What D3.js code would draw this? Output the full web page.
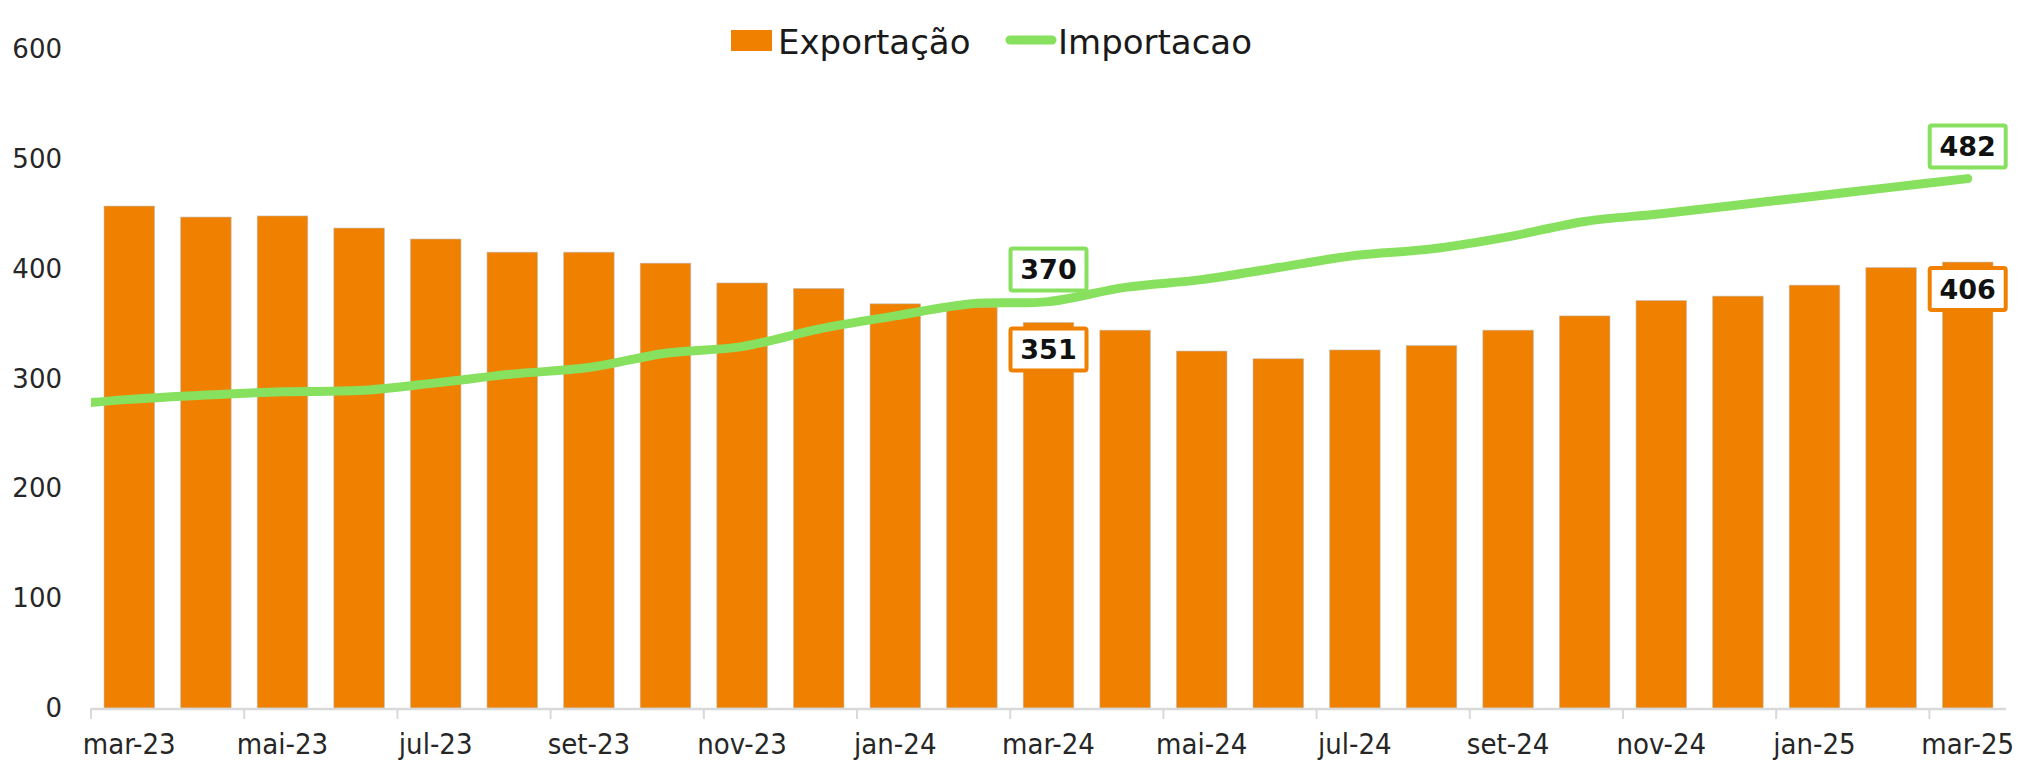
<!DOCTYPE html>
<html>
<head>
<meta charset="utf-8">
<script src="https://cdn.jsdelivr.net/npm/d3@7"></script>
<style>
body { margin: 0; background: #fff; }
text { font-family: Verdana, "DejaVu Sans", sans-serif; }
</style>
</head>
<body>
<div id="chart"></div>
<script>
var meses = ["mar-23","abr-23","mai-23","jun-23","jul-23","ago-23","set-23","out-23","nov-23","dez-23",
  "jan-24","fev-24","mar-24","abr-24","mai-24","jun-24","jul-24","ago-24","set-24","out-24","nov-24","dez-24",
  "jan-25","fev-25","mar-25"];
var exportacao = [457,447,448,437,427,415,415,405,387,382,368,365,351,344,325,318,326,330,344,357,371,375,385,401,406];
// the line comes in from the month before mar-23 (cut at the plot edge)
var importacaoAnterior = 275;
var importacao = [281,285,288,289,296,304,310,323,329,345,357,368,370,383,390,401,412,418,429,443,450,458,466,474,482];
var yTicks = [0,100,200,300,400,500,600];
var xLabels = ["mar-23","mai-23","jul-23","set-23","nov-23","jan-24","mar-24","mai-24","jul-24","set-24","nov-24","jan-25","mar-25"];
var rotulos = [12, 24];

var W = 2025, H = 762;
var plotL = 91, plotR = 2006, plotT = 49, plotB = 708;

var svg = d3.select("#chart").append("svg").attr("width", W).attr("height", H);

var x = d3.scaleBand().domain(meses).range([plotL, plotR]).paddingInner(0.34).paddingOuter(0.17);
var xi = d3.scaleLinear().domain([0, meses.length]).range([plotL, plotR]);
var y = d3.scaleLinear().domain([0, 600]).range([plotB, plotT]);

// y labels
svg.append("g").selectAll("text")
.data(yTicks)
.enter().append("text")
.attr("x", 62)
.attr("y", function(d) { return y(d); })
.attr("dy", "0.35em")
.attr("text-anchor", "end")
.style("font-size", "26px")
.attr("fill", "#262626")
.text(function(d) { return d; });

// bars
svg.append("g").selectAll("rect")
.data(exportacao)
.enter().append("rect")
.attr("x", function(d, i) { return x(meses[i]); })
.attr("y", function(d) { return y(d); })
.attr("width", x.bandwidth())
.attr("height", function(d) { return y(0) - y(d); })
.attr("fill", "#F08000")
.attr("stroke", "rgba(190,190,190,0.7)")
.attr("stroke-width", 0.8);

// x axis
svg.append("line")
.attr("x1", plotL).attr("x2", plotR)
.attr("y1", plotB + 1).attr("y2", plotB + 1)
.attr("stroke", "#d9d9d9").attr("stroke-width", 2.5);
svg.append("g").selectAll("line")
.data(xLabels)
.enter().append("line")
.attr("x1", function(d) { return x(d) - x.step() * 0.17; })
.attr("x2", function(d) { return x(d) - x.step() * 0.17; })
.attr("y1", plotB).attr("y2", plotB + 11)
.attr("stroke", "#d9d9d9").attr("stroke-width", 2);
svg.append("g").selectAll("text")
.data(xLabels)
.enter().append("text")
.attr("x", function(d) { return x(d) + x.bandwidth() / 2; })
.attr("y", 754)
.attr("text-anchor", "middle")
.style("font-size", "29px")
.style("font-family", "'DejaVu Sans Condensed', 'DejaVu Sans', sans-serif")
.attr("fill", "#262626")
.text(function(d) { return d; });

// line
svg.append("clipPath").attr("id", "plot")
.append("rect").attr("x", plotL).attr("y", 0).attr("width", plotR - plotL + 20).attr("height", H);
var pontos = [[-1, importacaoAnterior]].concat(importacao.map(function(d, i) { return [i, d]; }));
var linha = d3.line()
.x(function(d) { return xi(d[0] + 0.5); })
.y(function(d) { return y(d[1]); })
.curve(d3.curveCatmullRom.alpha(0.5));
svg.append("path")
.datum(pontos)
.attr("clip-path", "url(#plot)")
.attr("d", linha)
.attr("fill", "none")
.attr("stroke", "#88E15E")
.attr("stroke-width", 9)
.attr("stroke-linecap", "round");

// data labels
function rotulo(cx, cy, cor, valor) {
  var g = svg.append("g");
  g.append("rect")
  .attr("x", cx - 38).attr("y", cy - 21)
  .attr("width", 76).attr("height", 42)
  .attr("rx", 2)
  .attr("fill", "#fff")
  .attr("stroke", cor).attr("stroke-width", 4);
  g.append("text")
  .attr("x", cx).attr("y", cy)
  .attr("dy", "0.36em")
  .attr("text-anchor", "middle")
  .style("font-size", "27px")
  .style("font-weight", "bold")
  .attr("fill", "#111")
  .text(valor);
}
rotulos.forEach(function(i) {
  var cx = x(meses[i]) + x.bandwidth() / 2;
  rotulo(cx, y(importacao[i]) - 32, "#88E15E", importacao[i]);
  rotulo(cx, y(exportacao[i]) + 27, "#F08000", exportacao[i]);
});

// legend
var leg = svg.append("g");
leg.append("rect").attr("x", 731).attr("y", 30).attr("width", 41).attr("height", 21).attr("fill", "#F08000");
leg.append("text").attr("x", 778).attr("y", 54).style("font-size", "34px").attr("fill", "#1a1a1a").text("Exportação");
leg.append("line").attr("x1", 1010).attr("x2", 1052).attr("y1", 40).attr("y2", 40)
.attr("stroke", "#88E15E").attr("stroke-width", 9).attr("stroke-linecap", "round");
leg.append("text").attr("x", 1058).attr("y", 54).style("font-size", "34px").attr("fill", "#1a1a1a").text("Importacao");
</script>
</body>
</html>
